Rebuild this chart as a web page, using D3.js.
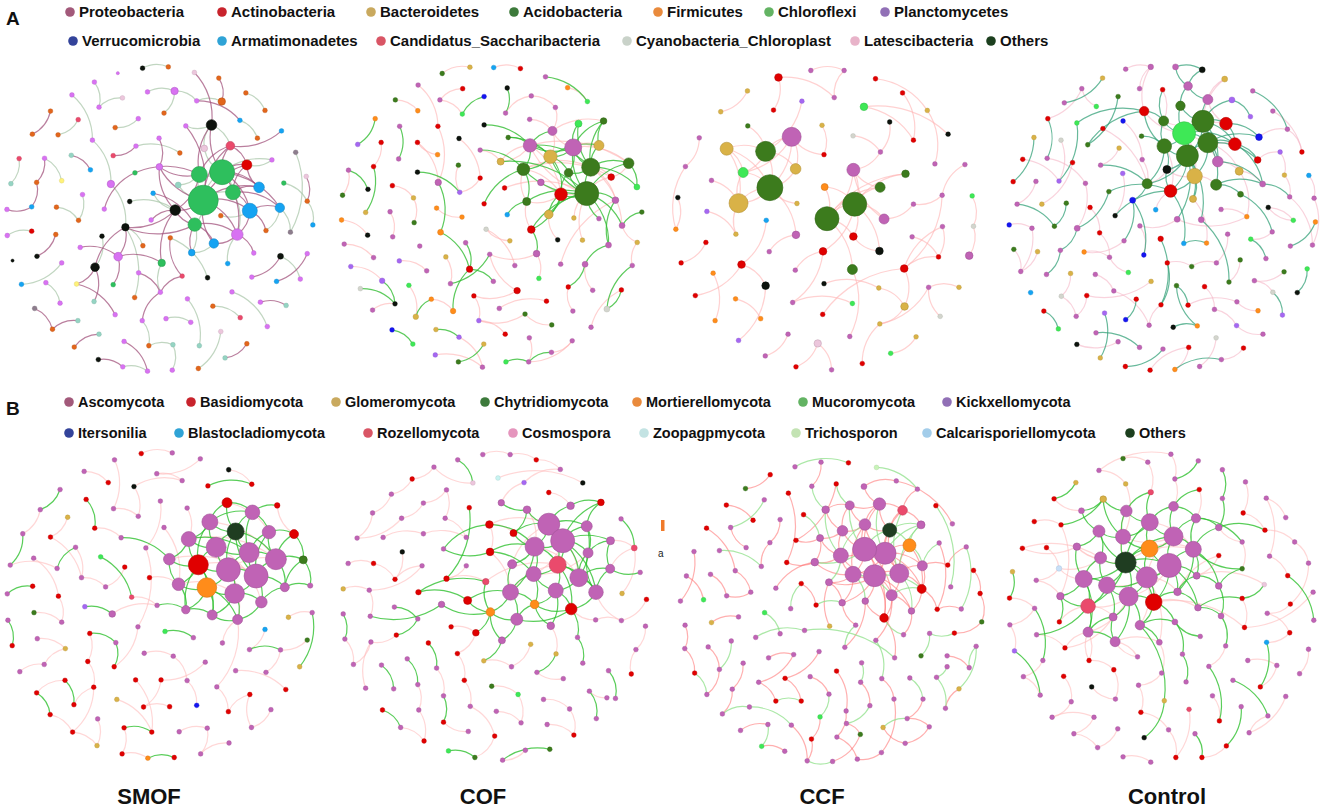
<!DOCTYPE html>
<html lang="en">
<head>
<meta charset="utf-8">
<title>Co-occurrence networks of bacteria and fungi</title>
<script src="https://cdn.jsdelivr.net/npm/d3@7"></script>
<style>
  html, body { margin: 0; padding: 0; background: #fff; }
  svg { display: block; }
  .leg { font-family: "Liberation Sans", Arial, sans-serif; font-weight: bold; fill: #111; }
</style>
</head>
<body>
<div id="chart"></div>
<script>
// legend categories
var bacteriaPhyla = ["Proteobacteria","Actinobacteria","Bacteroidetes","Acidobacteria","Firmicutes","Chloroflexi","Planctomycetes",
  "Verrucomicrobia","Armatimonadetes","Candidatus_Saccharibacteria","Cyanobacteria_Chloroplast","Latescibacteria","Others"];
var bacteriaColors = ["#a2597a","#c8232c","#c9a95e","#3d7a3b","#e98a3c","#63b363","#9170b6","#33439a","#2fa3d6","#d95565","#c9d2c9","#e8b3c9","#1c3f1e"];
var fungiPhyla = ["Ascomycota","Basidiomycota","Glomeromycota","Chytridiomycota","Mortierellomycota","Mucoromycota","Kickxellomycota",
  "Itersonilia","Blastocladiomycota","Rozellomycota","Cosmospora","Zoopagpmycota","Trichosporon","Calcarisporiellomycota","Others"];
var fungiColors = ["#a2597a","#c8232c","#c9a95e","#3d7a3b","#e98a3c","#63b363","#9170b6","#33439a","#2fa3d6","#d95565","#e595bd","#c3e3e3","#c3e3b3","#a3cdea","#1c3f1e"];
var treatments = ["SMOF","COF","CCF","Control"];

// node lists: [layout x, layout y, taxon code, weighted degree]
var smofBacNodes = [[61.6,44,"h",15],[67.3,35.5,"h",12.5],[60.4,36.2,"h",8],[70.6,41.6,"h",7.5],[59,51.4,"h",6.7],[75.7,47.2,"c",7.5],[78.5,40.1,"c",5.3],[84.8,46.3,"c",4.7],[71.9,54.4,"v",5.8],[64.8,57.1,"c",4.7],
[74.8,33.3,"r",5],[69.8,27.5,"s",4.3],[64.1,21.2,"k",5.3],[53.1,47,"k",5.3],[38,52.2,"k",3.7],[28.8,64.3,"k",4.3],[35.8,61.1,"v",4.3],[49,63,"h",3.7],[52.9,10.9,"v",3.7],[67.2,14.1,"e",3.7],
[33.6,39.1,"v",3.7],[48.3,33.9,"v",3.3],[85,61,"k",3],[58.1,59.9,"c",3.3],[61.9,28.3,"l",3.3],[54,39.4,"t",3],
[43.2,4,"k"],[51,3.6,"e"],[35.7,5.5,"v",1.6],[58.9,5.3,"l"],[28.6,8.2,"v"],[44.7,11.2,"v"],[21.8,12.1,"v"],[66.3,7,"e"],[74.5,11.5,"e"],[80.3,16.8,"e"],
[37.1,13,"l"],[30,15.8,"v"],[49.7,17.6,"e"],[59.6,13.9,"v"],[15.3,17,"e"],[9.8,24,"e"],[23.7,19.6,"s"],[17.6,24.2,"e"],[41.9,19.3,"v"],[34.9,22,"e"],
[56.3,21.5,"v"],[72.7,19.8,"c"],[85.3,23,"c"],[78,25.2,"e"],[28,25.8,"v"],[48.2,25.2,"v"],[34.3,30.5,"s"],[41.2,27.6,"v"],[54.5,29.7,"e"],[5.8,31.4,"s"],
[13.5,31.3,"v"],[21.6,30.4,"t"],[27.4,34.8,"c"],[3.3,39,"t"],[11.1,38.6,"e"],[18.7,38.1,"Y"],[40.9,35.7,"h"],[89.6,29.5,"x"],[82.4,31.8,"v"],[92.8,36.8,"l"],
[86,38.8,"h"],[93.1,44.3,"e"],[9.6,46,"c"],[2.1,46.8,"v"],[17.1,46.1,"e"],[25,42.3,"v"],[23.8,50.1,"e"],[31.6,46.7,"v"],[39.3,44.4,"k"],[46.4,41.9,"c"],
[45.8,50,"v"],[66.9,48.7,"e"],[51.6,55.4,"e"],[80.6,53.2,"e"],[88,53.7,"x"],[94.8,51.5,"c"],[2.2,54.7,"v"],[9.6,53.4,"r"],[16.9,54.4,"e"],[30.9,54.9,"k"],
[11.2,61,"k"],[3.8,62.3,"k",1.6],[24.3,58.3,"v"],[18.7,63,"v"],[43.3,57.8,"e"],[76.9,60,"v"],[69,63.2,"c"],[93.1,60.2,"v"],[6.5,69.5,"c"],[13.9,69,"v"],
[23.2,69.4,"Y"],[34.3,69.6,"h"],[42,66,"v"],[55.2,67,"s"],[62.9,67.5,"k"],[76.3,67.3,"v"],[83.8,68.6,"c"],[91,67.9,"v"],[18.2,75.2,"v"],[28.5,74.7,"t"],
[40.8,73.5,"e"],[48.6,71.9,"v"],[56.8,73.9,"v"],[70.3,71.8,"v"],[10.5,76.8,"x"],[23.6,80.5,"t"],[34.9,78.7,"v"],[43.1,80.5,"v"],[15.9,83.1,"e"],[50.3,79.9,"v"],
[57.8,81,"v"],[64.5,76.1,"e"],[72.8,79.6,"s"],[78.9,74.9,"v"],[86.7,75.9,"t"],[81,82.3,"v"],[30,84.6,"t"],[66.9,83.8,"l"],[22.5,88.5,"e"],[37.6,86.8,"v"],
[45.1,88.1,"e"],[52.4,87.8,"t"],[60.4,88.1,"t"],[74.8,87.5,"e"],[68.2,91.8,"t"],[29.8,92.3,"k"],[37.2,94.5,"v"],[44.7,95.8,"v"],[52.2,95.5,"v"],[60.1,95,"e"]];
// links: [source, target, sign] (1 = first colour, 0 = second colour)
var smofBacLinks = [[26,27,0],[29,12,1],[33,19,1],[34,35,0],[37,36,0],[30,37,0],[31,18,0],[18,38,0],[18,39,0],[39,47,1],[39,19,0],[40,41,1],[42,43,0],[32,50,0],[50,20,0],[44,45,0],[46,0,1],[47,49,0],[48,11,1],[51,21,1],
[53,52,1],[53,54,0],[57,58,1],[56,61,0],[56,60,1],[55,59,0],[60,68,1],[68,69,1],[63,80,0],[65,67,1],[67,81,0],[66,67,0],[64,10,0],[71,72,0],[70,72,0],[73,62,1],[62,2,1],[74,13,0],[75,4,1],[82,83,0],
[84,86,1],[88,16,1],[89,94,0],[95,104,0],[96,112,1],[15,14,1],[15,105,1],[15,96,1],[14,90,0],[14,106,0],[16,97,1],[16,17,1],[98,107,1],[107,99,1],[107,17,0],[17,13,1],[113,107,1],[113,126,0],[78,100,0],[99,78,1],
[23,4,1],[9,0,1],[92,8,0],[8,91,1],[5,77,0],[7,79,0],[7,80,0],[22,101,1],[22,103,0],[93,102,1],[110,114,1],[114,111,1],[108,128,0],[115,116,0],[117,118,0],[109,121,0],[119,120,1],[123,135,0],[129,130,1],[124,122,1],
[125,133,1],[126,127,0],[127,134,0],[131,132,1],[132,133,0],[85,15,0],[76,13,1],[20,14,0],
[0,1,0],[0,2,0],[0,3,0],[0,4,0],[0,5,1],[0,6,1],[0,8,1],[0,13,1],[0,25,0],[1,2,0],[1,3,0],[1,10,1],[1,11,1],[1,12,1],[1,24,0],[1,6,1],[1,5,1],[1,7,1],[2,21,1],[2,12,1],
[2,13,1],[3,5,1],[3,6,1],[3,7,1],[3,10,1],[4,13,1],[4,9,1],[4,23,0],[4,14,1],[4,8,1],[5,8,1],[5,7,1],[8,9,1],[13,14,1],[13,21,1],[13,75,0],[14,16,1],[12,11,0],[11,10,1],[24,12,0],
[1,64,0],[5,79,1],[9,23,0],[12,46,0],[2,25,0],[0,21,1],[1,8,1],[3,8,0],[0,10,1],[0,11,1],[2,11,1],[6,10,1]];

var cofBacNodes = [[77.8,42,"g",12],[79,34,"g",9],[73.7,28,"m",8.5],[60.6,27.4,"m",6.7],[66.8,30.8,"y",6.7],[58.6,34.6,"g",6.3],[70,42.2,"r",6.3],[81.5,27.4,"y",5],[90.5,32.8,"g",5.3],[67.4,23,"m",4.5],
[72.3,35.7,"g",4.3],[59.6,44.4,"g",4],[66.3,48.3,"y",4.3],[61,52.9,"r",3.8],[85.2,37,"r",3.3],[75.3,20.8,"G",3.5],[82.9,20,"g",3.3],[51.7,32.3,"y",3.5],[63.9,38.6,"m",3.3],[86.5,44,"m",3.3],
[62.6,60.2,"m",3.3],[93,40,"G",3],[88.5,51.7,"m",3],[84.4,57.6,"m",3],[42.3,64.9,"r",3.2],[56.7,71.4,"r",3.2],[33.5,53.7,"o",3],[32.8,38.6,"m",3.2],[83.9,77,"w",3],[77.3,63.4,"m",3],
[37.3,77.6,"o",2.8],[26,79.3,"y",2.8],[15.8,68.4,"p",2.8],
[34,5.6,"g"],[42.4,3.7,"y"],[49.6,3.8,"c"],[57.7,4.1,"r"],[65.3,6.6,"m"],[72,9.9,"o"],[78,14.1,"G"],[26.7,9.1,"m"],[40.2,10.2,"r"],[33.3,13.6,"m"],
[46.7,12.6,"b"],[40.1,17.9,"G"],[53.7,10,"k"],[53.2,17.6,"m"],[61,12.4,"m"],[68.3,15.9,"m"],[60.5,19.5,"m"],[19.8,13.6,"g"],[26.6,16.9,"o"],[13.7,19.3,"o"],
[8.4,27.1,"p"],[21.1,21.6,"m"],[20.8,31.5,"m"],[15.5,26.5,"r"],[32.7,21.6,"r"],[26.5,26.5,"r"],[39.1,25.3,"k"],[46.7,21.2,"k"],[54,25,"g"],[45.5,28.8,"m"],
[32.6,30.2,"o"],[38.9,33.4,"g"],[26.5,35.5,"k"],[13.2,33.8,"r"],[5.6,34.9,"m"],[3.8,42.5,"g"],[11.5,40.7,"k"],[18.9,39.6,"r"],[25.3,43.3,"y"],[45.5,37.3,"r"],
[52.9,40.3,"r"],[39.3,41.6,"p"],[46.7,45.1,"r"],[3.5,50,"o"],[10.8,47.7,"y"],[18.2,47.5,"m"],[25.5,50.8,"g"],[32.3,46.4,"o"],[40,49.1,"o"],[53.7,48.4,"c"],
[73.9,49.4,"y"],[47.3,52.8,"w"],[81.5,49.6,"m"],[94.5,47.6,"g"],[11.4,54.6,"k"],[19,55.1,"m"],[4.3,57.3,"m"],[27.2,57.9,"m"],[41.1,56.9,"m"],[54.5,56.3,"y"],
[69,56,"k"],[76.5,56.1,"y"],[93.1,56.8,"y"],[13.2,61.4,"m"],[35.1,61.2,"y"],[48.4,60.4,"m"],[21,62.4,"p"],[29.3,65.4,"m"],[56,63.8,"m"],[69.9,63.4,"m"],
[91.6,63.8,"m"],[6.3,64.1,"p"],[36.5,69.3,"m"],[49.5,68.6,"m"],[63.3,67.7,"G"],[72.2,70.3,"r"],[79.6,71.3,"m"],[88.3,71.2,"r"],[9.2,70.8,"w"],[23.9,69.8,"G"],
[19.7,75.4,"k"],[12.9,77.3,"m"],[30.7,74,"o"],[43.6,73,"r"],[51.3,76.8,"m"],[59.1,78.5,"g"],[65.6,74.6,"r"],[73.6,77.6,"m"],[45.1,80.5,"p"],[53.1,84.6,"r"],
[18.8,83.3,"b"],[25.1,87.6,"G"],[32.1,83.2,"y"],[39.1,85.5,"p"],[67.2,81.8,"g"],[79.1,82.5,"m"],[60.4,85.7,"m"],[46.6,87.6,"y"],[73.4,86.6,"m"],[31.9,90.9,"p"],
[38.9,93,"g"],[46.2,94.6,"m"],[53.3,93,"G"],[60.2,93,"m"],[67.1,90.1,"m"]];
var cofBacLinks = [[33,34,0],[35,36,0],[37,39,1],[38,39,0],[40,57,0],[42,41,0],[42,44,0],[44,43,1],[50,51,0],[52,53,1],[54,55,1],[56,66,0],[66,77,1],[67,69,1],[67,68,0],[58,27,0],[65,74,1],[27,26,1],[26,24,1],[24,106,1],
[70,71,0],[78,88,0],[76,87,0],[89,96,0],[104,32,0],[32,113,1],[111,113,1],[99,100,0],[112,31,0],[31,115,1],[115,30,0],[123,124,1],[125,126,1],[126,134,0],[132,134,0],[130,133,1],[121,122,0],[117,119,0],[118,121,0],[131,136,0],
[135,136,1],[136,137,1],[131,137,0],[128,110,0],[110,28,1],[28,103,1],[103,95,0],[29,108,1],[29,23,1],[23,19,1],[22,86,1],[20,98,0],[20,107,0],[98,105,1],[91,24,1],[84,101,0],[25,116,0],[25,98,0],[13,20,1],[13,11,0],
[13,0,1],[12,0,1],[12,6,1],[11,5,0],[11,0,1],[72,74,0],[74,64,0],[75,5,1],[82,11,1],[59,72,0],[60,3,1],[61,3,1],[61,4,1],[62,5,1],[62,17,0],[17,0,1],[17,3,0],[46,47,0],[47,48,0],[45,46,1],
[73,0,0],[83,0,0],[85,0,1],[94,0,0],[95,22,0],[102,19,0],[49,9,0],[48,9,0],[63,58,0],[57,27,0],[114,113,0],[93,12,0],[97,105,0],[109,29,0],[120,108,0],[127,118,0],[129,136,0],[81,80,0],[71,79,0],[92,84,0],
[116,121,0],[30,24,1],
[0,1,1],[0,2,1],[0,4,1],[0,5,1],[0,6,1],[0,8,1],[0,10,1],[0,14,0],[0,19,1],[0,22,1],[0,18,0],[1,2,1],[1,7,1],[1,8,1],[1,10,1],[1,14,0],[1,16,1],[1,15,1],[1,21,1],[2,3,1],
[2,4,1],[2,7,0],[2,9,0],[2,15,1],[3,4,1],[3,5,1],[3,9,1],[4,5,1],[4,6,1],[4,10,1],[5,6,0],[5,11,1],[6,10,1],[6,12,1],[7,16,1],[8,21,1],[8,14,0],[9,4,0],[3,17,0],[0,23,1],
[1,19,0],[1,22,0],[6,11,0],[6,13,1],[2,16,1],[2,8,0],[3,8,0],[5,14,0],[9,16,0],[0,3,0],[3,1,1],[5,1,0],[4,7,1],[2,10,1],[3,6,0]];

var ccfBacNodes = [[33.3,40.2,"g",13],[59,45.2,"g",12],[50.6,49.6,"g",12],[32,29.2,"g",10],[39.9,24.8,"m",9.5],[23.8,44.9,"y",9.5],[20.2,28.4,"y",6.5],[41.1,34.5,"y",5.3],[25.2,35.6,"G",5],[58.6,34.8,"m",6.5],
[66.7,40.1,"g",5],[67.9,49.7,"m",5],[66.5,59.4,"k",3.8],[58.3,65,"g",5],[74.4,36,"g",3.8],[35.9,6.8,"r",3.8],[41.2,54.5,"m",3.8],[58.6,55,"r",3.8],[49.4,59.5,"r",3.8],[24.7,63.5,"r",3.8],
[32,69.9,"k",3.8],[49.9,40,"o",3.5],[74,64.7,"r",3.8],[93.7,60.8,"m",3.8],[61.8,15.7,"G",3.8],[74.1,76.2,"y",3.8],[47.8,87.4,"l",3.7],
[45.7,4.7,"m"],[55.8,4.7,"m"],[65.3,7.2,"r"],[52.8,12.9,"m"],[26.5,10.9,"y"],[18.4,17.2,"y"],[34.4,16.7,"r"],[43,14,"p"],[73.5,11.5,"r"],[81,16.8,"y"],
[26.6,21.5,"g"],[49.1,21.3,"y"],[69.6,20.3,"k"],[87.3,24,"k"],[76.8,25.8,"r"],[58.5,24.5,"w"],[11.9,25.1,"m"],[7.7,33.8,"m"],[66.8,29.4,"m"],[49.7,30.2,"r"],
[83.3,33,"m"],[92.4,33.2,"m"],[15.6,38,"m"],[5.4,43.2,"k"],[41.5,45,"y"],[85.5,42.5,"m"],[76.8,45.2,"m"],[94.6,42.7,"G"],[14.2,47.4,"p"],[32.2,50.1,"c"],
[4.8,52.8,"o"],[23,54.3,"y"],[85.6,52,"m"],[95,51.9,"w"],[76.4,55.1,"m"],[13.9,56.8,"r"],[33.1,59.6,"m"],[84.4,61.2,"r"],[6.4,63,"r"],[16.1,66.1,"o"],
[41,65.2,"m"],[10.7,72.9,"r"],[49.7,69.3,"k"],[66.3,70.6,"y"],[22.9,73.9,"o"],[40.2,75,"m"],[58.3,75.3,"G"],[81.4,70.4,"m"],[90.6,70.4,"y"],[30.5,79.9,"o"],
[16.7,80.5,"o"],[49.3,78.6,"r"],[66.6,81.5,"y"],[84.9,79.2,"w"],[38.8,84.6,"m"],[57.5,85.3,"m"],[77.6,85.4,"y"],[23.8,86.5,"p"],[31.9,91.2,"m"],[41.2,94.5,"r"],
[52,95.4,"m"],[61.3,93.5,"r"],[69.9,90.4,"G"]];
var ccfBacLinks = [[27,28,0],[15,30,0],[15,33,0],[34,3,0],[31,32,0],[29,36,0],[35,41,0],[36,47,0],[24,41,0],[24,40,0],[39,45,0],[38,46,0],[42,45,0],[37,3,0],[43,44,0],[6,3,0],[6,0,0],[6,8,0],[6,5,0],[3,0,0],
[3,4,0],[3,7,0],[3,8,0],[4,0,0],[4,7,0],[5,0,0],[5,8,0],[8,0,0],[7,0,0],[0,16,0],[49,5,0],[50,57,0],[55,58,0],[58,5,0],[56,19,0],[19,20,0],[62,65,0],[66,77,0],[19,68,0],[71,76,0],
[20,84,0],[63,16,0],[72,73,0],[18,72,0],[69,70,0],[78,22,0],[81,85,0],[26,86,0],[26,87,0],[9,2,0],[9,1,0],[21,1,0],[21,2,0],[2,1,0],[1,10,0],[1,14,0],[2,14,0],[2,10,0],[1,11,0],[1,12,0],
[2,13,0],[1,17,0],[2,17,0],[1,18,0],[13,82,0],[22,64,0],[22,25,0],[22,59,0],[59,64,0],[52,53,0],[52,48,0],[52,22,0],[54,60,0],[60,23,0],[61,64,0],[74,75,0],[74,79,0],[25,79,0],[80,74,0],[83,89,0],
[88,79,0],[10,9,0],[0,5,0],[4,8,0],[30,28,0],[45,9,0],[46,4,0],[51,0,0],[67,18,0],[11,9,0],[53,11,0],[57,44,0],[70,25,0],[12,17,0]];

var ctrlBacNodes = [[57.3,23.7,"G",11.5],[63,20.1,"g",11],[58.3,30.5,"g",11],[64.5,26.6,"g",10],[51.3,27.6,"g",7.3],[60.5,36.7,"y",7.7],[70,20.8,"r",6.3],[72.7,27,"r",6.3],[53.2,41.2,"r",6.3],[67.5,32.3,"m",5.3],
[67,39.3,"g",5.5],[46.1,39,"g",5],[51.1,20,"g",5],[56.2,15.4,"g",4.7],[45.2,17,"r",4.7],[64.5,13.5,"m",5],[52.1,34.7,"k",4],[58.5,9.4,"m",4.3],[74,35.2,"y",4],[60,43.6,"y",3.5],
[79.6,31.8,"r",3.3],[80,24.9,"b",3.3],[81.1,39.1,"m",3],[71.8,13.6,"p",3],[74.4,42.2,"g",3],[69.6,7.3,"y",3],[54.7,3.6,"m",3],[62.8,4.5,"k",3],[47.2,3.6,"m",2.8],[62.5,49.9,"m",3],
[55.2,49.8,"m",3],[24.9,52.5,"m",3],[41.7,44,"b",3],[50.2,55.7,"r",2.8],
[39.6,4.3,"m"],[32.6,7,"y"],[26.3,10.2,"m"],[21,14.5,"m"],[43.8,10.2,"m"],[50.8,10.5,"r"],[37.3,12.6,"g"],[78.1,10.9,"m"],[30.7,15.6,"G"],[84.2,17,"m"],
[16,19.3,"r"],[24.8,20.6,"G"],[32.7,22.3,"r"],[38.8,20,"b"],[77.4,18.7,"p"],[11.8,25,"y"],[20,25.8,"w"],[28.1,27.2,"g"],[37.6,28.2,"y"],[44.4,24.6,"g"],
[88.6,22.5,"m"],[8.4,31.6,"r"],[15.8,31.3,"m"],[23.5,32.6,"r"],[32,33.4,"m"],[44.6,31.7,"m"],[86.4,29.4,"p"],[93,29.4,"r"],[5.5,38.4,"r"],[12.4,38.3,"m"],
[19.4,38.2,"p"],[27.4,38.9,"m"],[38.7,35.9,"p"],[87.7,36.4,"y"],[95.1,36.5,"c"],[6.7,45.2,"m"],[14.2,45.2,"y"],[21.6,44.9,"g"],[34.5,41.4,"g"],[89.3,43,"m"],
[96.7,43.4,"m"],[28.8,46.2,"r"],[36.4,48.7,"k"],[48.7,46.9,"c"],[68.5,46.8,"m"],[82.8,46.2,"k"],[4.3,51.5,"b"],[11.2,52.5,"m"],[18,51.9,"g"],[43.9,51.8,"m"],
[76.3,49,"o"],[90.4,50.1,"G"],[97.1,50.6,"o"],[31.7,53.9,"r"],[39.1,56.3,"m"],[57.2,57.1,"c"],[64.1,57,"o"],[70.5,54.3,"m"],[77.5,55.8,"G"],[84,53.6,"m"],
[5.7,58.9,"g"],[12.9,59.6,"y"],[19.8,59.2,"m"],[27,59.7,"o"],[34.7,61.3,"m"],[45.1,60.6,"b"],[52.2,63,"r"],[59.6,64.1,"g"],[67.1,63,"m"],[74.3,62.1,"g"],
[82.1,61.7,"m"],[89.5,57.9,"m"],[96.2,57.6,"m"],[7.8,65.6,"m"],[15.6,66.5,"m"],[22.9,66.2,"y"],[30.4,66.5,"m"],[40.4,65.9,"G"],[47.3,68.6,"y"],[55,69.9,"g"],
[63.5,70.2,"r"],[70.9,68.8,"g"],[78.6,68.4,"m"],[87.6,65.7,"g"],[94.6,64.8,"G"],[10.8,72,"c"],[20.1,73.1,"w"],[27.8,72.9,"r"],[36,71.5,"m"],[42.8,74,"r"],
[50.3,75.7,"r"],[58.5,75.8,"r"],[66.5,77.1,"m"],[73.3,74.8,"m"],[84.2,71.9,"w"],[91.6,72,"k"],[14.8,77.6,"r"],[24.6,79.2,"m"],[33.2,78.2,"p"],[39.6,80.2,"b"],
[46.7,81.9,"m"],[54,82.5,"k"],[61.3,82.1,"o"],[73.2,82,"p"],[79.7,77.5,"o"],[87.1,78.8,"p"],[19.2,83,"G"],[30.6,84.2,"m"],[37.3,86.9,"m"],[43.8,88.6,"m"],
[50.9,89.1,"m"],[58.7,88.6,"r"],[67,85.7,"w"],[75.3,88.8,"r"],[81.2,84.6,"m"],[24.8,87.7,"k"],[31.9,91.8,"y"],[39.5,94.4,"r"],[47,95.5,"r"],[54.5,95.3,"o"],
[62,94.4,"m"],[68.6,92.3,"m"]];
var ctrlBacLinks = [[0,1,1],[0,2,1],[0,3,1],[0,4,1],[0,12,1],[0,13,1],[1,3,1],[1,2,1],[1,6,1],[1,15,1],[1,13,1],[2,3,1],[2,4,1],[2,5,1],[2,8,1],[2,16,1],[2,11,1],[3,7,1],[3,9,1],[3,10,1],
[3,5,1],[3,18,0],[4,14,1],[4,11,1],[4,12,1],[5,19,1],[5,8,1],[5,10,0],[6,7,1],[6,21,1],[7,20,1],[9,22,1],[10,24,1],[11,32,1],[13,17,1],[15,17,1],[15,25,0],[17,27,1],[17,26,1],[26,27,1],
[14,28,0],[1,23,1],[23,48,1],[1,25,0],[7,22,1],[9,18,0],[2,19,1],[2,29,1],[2,30,1],[0,14,0],[3,20,1],[12,39,1],[16,11,0],[4,16,1],[8,16,1],[0,7,1],[1,7,1],[3,21,1],[1,9,1],[10,22,1],
[18,22,0],[5,16,0],[0,6,0],[0,9,0],[2,7,0],[4,8,0],[1,12,0],[6,15,0],[14,12,1],[0,5,0],
[34,28,0],[35,37,1],[36,44,0],[40,51,1],[41,54,1],[43,61,0],[45,64,1],[49,62,1],[50,64,0],[56,65,0],[57,70,0],[63,69,0],[69,82,1],[51,14,1],[58,11,1],[59,11,0],[66,76,0],[72,31,1],[72,8,1],[75,87,0],
[31,96,1],[76,8,1],[32,99,1],[77,8,0],[8,89,1],[33,124,1],[87,98,0],[88,97,0],[89,90,1],[78,84,0],[29,115,1],[84,30,0],[92,104,1],[93,92,0],[73,106,0],[74,106,0],[86,105,1],[60,67,0],[54,61,0],[67,73,0],
[95,107,0],[96,108,1],[94,107,0],[80,81,0],[81,107,0],[55,64,0],[97,98,0],[100,101,0],[100,124,1],[101,102,0],[112,121,0],[113,125,1],[114,126,0],[117,116,0],[118,129,1],[120,131,0],[121,131,0],[123,133,1],[125,127,0],[128,139,1],
[130,140,1],[132,150,1],[141,143,1],[144,151,1],[145,153,0],[153,155,1],[146,154,0],[147,155,0],[148,137,0],[135,136,1],[136,113,1],[138,127,0],[47,59,0],[53,4,1],[68,74,0],[79,85,0],[46,11,0],[52,58,0],[109,120,0],[110,122,0],
[111,98,0],[142,149,0],[152,145,0],[38,28,0],[42,36,0],[39,12,0],[65,31,0],[83,99,0],[91,102,0],[103,115,0],[134,124,0],[122,134,0],[116,128,0],[126,137,0],[45,14,1],[20,60,0],[21,54,0],[22,73,1],[24,93,1],[18,84,0],
[19,90,0],[30,83,0],[32,88,1],[44,56,1],[71,82,1],[85,79,0]];

var smofFunNodes = [[69.2,37.8,"m",12],[77.6,39.7,"m",12],[60.1,36.3,"r",10],[75.5,32.6,"m",10],[65.5,31,"m",10],[83.6,34.6,"m",10.5],[71.1,45,"m",9.8],[62.7,43.2,"o",9.8],[71.4,26.2,"d",8.5],[63.6,23.3,"m",8],
[57.2,28.5,"m",7.5],[76.5,20.4,"m",7.3],[81.5,26.4,"m",6.7],[54.1,42.2,"m",6.3],[79.2,47.6,"m",5.8],[51.3,34.6,"m",5.8],[86.3,43.1,"m",4.5],[72,52.9,"m",5],[64.3,51.5,"m",5],[56.3,49.9,"m",4.2],
[68.8,17.5,"r",5],[89.1,27,"r",4.5],[91.9,34.8,"g",4],[34,51.2,"m",3.3],[84,18.3,"r",2.8],[94,42.6,"m",2.7],
[42.8,2.6,"r"],[52.2,2.4,"m"],[60.7,4.2,"m"],[34.7,4.5,"m"],[25.5,8,"m"],[32.8,11.4,"r"],[47.5,8.7,"m"],[55.2,10.8,"m"],[69.3,7.5,"k"],[76.3,11.9,"r"],
[40.6,12.6,"k"],[63,12.4,"r"],[18.2,13.5,"m"],[12.2,19.6,"m"],[34.4,19.3,"m"],[26.1,16.5,"r"],[48.6,17,"m"],[41.9,21.6,"m"],[28.7,25.2,"r"],[20.5,21.9,"y"],
[56.7,19.1,"m"],[6.9,26.9,"m"],[15.3,27.9,"r"],[36.7,28.1,"m"],[49.7,25,"m"],[22.9,31,"m"],[44.2,31.2,"m"],[3.1,36.4,"m"],[10.2,34.3,"m"],[17.3,37.4,"m"],
[30.5,33.9,"G"],[37.8,37,"r"],[24.7,40.2,"m"],[45.3,40.2,"r"],[2.2,45.1,"m"],[9.9,42.8,"r"],[17.7,45.8,"r"],[32,43,"m"],[39.9,46.1,"s"],[10.3,50.8,"g"],
[18.7,53.7,"m"],[25.7,49,"p"],[47.6,48.6,"m"],[2.4,53.1,"m"],[3.7,60.8,"r"],[11.3,58.7,"m"],[19.8,61.7,"y"],[27.2,57.1,"r"],[35.1,59.9,"m"],[41.8,55.1,"m"],
[50,56.5,"G"],[58.6,58.4,"m"],[67.4,60,"m"],[80.3,55.9,"c"],[87.4,52.2,"y"],[94.6,50.8,"m"],[75.6,62,"m"],[85,62.1,"m"],[93.1,59.1,"g"],[6,68.7,"m"],
[13.4,66.5,"m"],[26.6,65.6,"r"],[34.6,67.2,"r"],[43.7,63.1,"m"],[52.5,64,"m"],[62.2,65.8,"m"],[80.6,68.9,"m"],[90.8,67.2,"y"],[11.1,75.1,"r"],[19.7,71.3,"r"],
[28.4,73.4,"r"],[41.1,71.2,"r"],[48.8,71.2,"r"],[56.7,71.4,"m"],[65.7,73.3,"m"],[71.4,68.4,"m"],[86.6,74.1,"r"],[15.2,81.7,"r"],[22.4,78.7,"r"],[35.4,77.1,"y"],
[43.5,79.4,"r"],[51.4,79.3,"r"],[59.6,78.9,"b"],[69.2,80.8,"r"],[75.7,75.6,"r"],[82.1,80.2,"m"],[22,87,"r"],[29.6,83,"m"],[37.6,85.7,"r"],[46,87,"r"],
[54.3,86.9,"m"],[62.8,85.8,"m"],[76.2,85.6,"m"],[29.4,91.1,"y"],[37,93.6,"r"],[44.8,94.9,"o"],[52.8,94.7,"r"],[60.8,93.6,"m"],[69.4,90.3,"m"]];
var smofFunLinks = [[0,1,1],[0,2,1],[0,3,1],[0,4,1],[0,6,1],[0,7,1],[0,8,1],[0,5,0],[1,3,1],[1,5,1],[1,6,1],[1,14,1],[1,16,1],[1,8,1],[1,12,1],[2,4,1],[2,7,1],[2,10,1],[2,13,1],[2,15,1],
[2,9,1],[3,4,1],[3,5,1],[3,8,1],[3,11,1],[3,12,1],[4,8,1],[4,9,1],[4,10,1],[5,12,1],[5,16,1],[5,21,1],[5,22,1],[6,7,1],[6,14,1],[6,17,1],[6,18,1],[7,13,1],[7,18,1],[7,19,1],
[8,9,1],[8,11,1],[8,20,1],[9,10,1],[9,20,1],[10,15,1],[11,12,1],[11,24,1],[12,21,1],[13,15,1],[13,19,1],[14,16,1],[14,17,1],[16,25,1],[17,18,1],[19,18,1],[20,11,1],[21,22,1],[22,25,1],[15,1,0],
[10,5,0],[9,5,0],[13,6,0],[2,1,0],[4,14,0],[20,12,0],[0,17,0],[2,18,1],[10,3,1],[8,5,1],[16,22,1],[9,11,1],[19,2,1],[7,17,1],[21,24,0],
[56,64,1],[57,63,0],[49,15,1],[42,52,0],[26,27,0],[29,40,0],[30,31,0],[32,33,0],[36,33,0],[36,43,0],[34,35,0],[37,35,1],[38,39,1],[41,44,1],[45,48,0],[47,53,1],[53,55,0],[48,58,0],[54,62,0],[55,51,1],
[51,58,0],[60,61,1],[65,66,0],[67,23,1],[23,68,0],[68,19,1],[69,70,1],[71,72,0],[73,74,1],[74,88,1],[73,87,0],[75,88,0],[76,77,1],[89,90,0],[91,98,0],[17,100,0],[79,82,0],[82,83,1],[80,81,0],[81,93,1],
[84,83,0],[83,92,0],[101,102,0],[85,86,0],[94,95,0],[95,104,1],[94,103,1],[96,112,0],[97,115,0],[105,115,0],[106,107,0],[113,119,0],[114,115,1],[114,120,0],[116,117,0],[109,110,0],[111,118,0],[121,122,1],[123,124,0],[28,32,0],
[46,10,0],[50,13,0],[78,17,0],[59,13,0],[52,75,0],[62,66,0],[86,72,0],[87,96,0],[90,99,0],[98,106,0],[99,108,0],[100,109,0],[117,123,0],[118,110,0],[112,119,0],[120,121,0],[103,112,0],[104,96,0],[58,63,0],[39,47,0],
[40,43,0],[44,49,0],[64,68,0]];

var cofFunNodes = [[70.5,29,"m",12],[66.3,24,"m",11],[62,30.8,"m",9.5],[69,36.3,"s",8.5],[75.4,40.2,"m",9],[54.7,44.6,"m",8],[68.4,44.1,"m",7.5],[61.7,39.1,"m",7.5],[80.6,44.6,"m",7.3],[73.1,49.7,"r",5.8],
[56.6,52.8,"m",6],[77.8,24.6,"m",5.5],[78.2,32.7,"m",5],[55.2,36.1,"m",4.5],[84.9,37.5,"m",4.5],[85,29,"m",4],[62,48.3,"o",4.3],[48.6,50.6,"o",4.3],[59.7,19.6,"m",3.8],[72.9,18.4,"m",3.8],
[48.3,24.1,"r",3.8],[48.5,32.4,"r",3.8],[55.6,26.7,"r",3.5],[41.7,47.1,"r",4],[47.2,41.4,"s",3.2],[66.9,54.8,"m",3.8],[52.1,59.2,"m",3.5],[44.2,56.9,"r",3.3],[33.8,48.3,"m",3.2],[82.1,17.4,"r",3.3],
[51.9,17.5,"m",3.2],[92.2,31.2,"s",3],[35.3,40.5,"r",2.8],[26.8,44.6,"r",2.8],
[46.3,2.9,"m"],[54.6,2.9,"m"],[62.5,4.5,"r"],[38.7,4.5,"m"],[43.3,11.5,"l"],[50.9,10,"q"],[58.8,11.4,"p"],[69.8,7.4,"m"],[76.6,11.5,"k"],[66.3,14.4,"r"],
[31.5,6.7,"m"],[24.9,10.3,"r"],[18.6,14.9,"m"],[12.9,20.6,"m"],[35.3,13.6,"m"],[28.3,17.6,"m"],[34.9,22.2,"m"],[42.2,19,"r"],[21.7,22.2,"m"],[8.2,28.2,"m"],
[16.1,28,"m"],[21.9,32.4,"k"],[28.3,26.9,"m"],[34.4,31.5,"m"],[41.3,28,"m"],[88.2,22.4,"m"],[5.5,35.9,"m"],[13.2,35.9,"r"],[19.7,40.7,"r"],[27.9,36.6,"m"],
[41.3,36.6,"m"],[94,38.6,"m"],[4,43.6,"y"],[11.9,44,"m"],[88.5,45,"y"],[95.9,46.8,"r"],[4,51.2,"m"],[12.2,51.9,"m"],[19.5,49.1,"m"],[26.6,52.7,"m"],
[36.7,55.1,"r"],[80.5,53,"m"],[88.3,53.2,"m"],[4.5,58.8,"m"],[12.4,59.7,"m"],[20.1,57.6,"r"],[29.8,60,"r"],[60.8,60.4,"y"],[68.5,63.3,"y"],[75,58.3,"m"],
[95.6,54.9,"m"],[92.7,62,"m"],[38.6,63.2,"r"],[46.6,65.4,"y"],[55,67.2,"m"],[62.7,68.9,"m"],[7.1,66.5,"m"],[15.6,66.7,"m"],[23.4,64.8,"m"],[32.3,67.6,"m"],
[76.6,66.1,"m"],[84.4,68.4,"m"],[91.3,69.4,"r"],[40.7,71.3,"r"],[10.8,73.7,"m"],[19.3,73.9,"m"],[26.6,72.6,"m"],[70.7,70.8,"m"],[83.9,76.6,"m"],[49,73.1,"g"],
[57,75.6,"G"],[64.7,77.1,"m"],[72.6,80,"m"],[78.6,74.6,"m"],[86.5,76.8,"m"],[34.4,76,"m"],[15.9,80.3,"r"],[26.9,80.3,"m"],[42.5,79.2,"m"],[50.4,80.7,"m"],
[21.4,85.6,"m"],[34.4,84,"r"],[41.9,86.8,"m"],[49.9,88.2,"r"],[57.9,84.2,"m"],[65.8,84.7,"m"],[73.9,87.9,"r"],[80.7,82.9,"m"],[28.5,89.7,"r"],[35.9,92.7,"G"],
[43.9,94.7,"g"],[52.3,95.5,"m"],[59.2,92.5,"m"],[66.6,92.2,"g"]];
var cofFunLinks = [[0,1,1],[0,2,1],[0,3,1],[0,11,1],[0,12,1],[0,4,1],[1,2,1],[1,18,1],[1,19,1],[1,11,1],[2,3,1],[2,7,1],[2,13,1],[2,22,1],[2,5,1],[3,4,1],[3,6,1],[3,7,1],[3,9,1],[4,8,1],
[4,6,1],[4,12,1],[4,14,1],[5,7,1],[5,10,1],[5,17,1],[5,13,1],[5,16,1],[6,7,1],[6,9,1],[6,16,1],[6,25,1],[7,16,1],[8,14,1],[8,9,1],[8,12,1],[10,16,1],[10,17,1],[10,26,1],[11,29,1],
[11,12,1],[12,15,1],[14,15,1],[14,31,0],[15,31,0],[17,23,1],[17,27,1],[17,28,1],[17,24,1],[18,30,1],[19,29,1],[20,22,0],[20,2,1],[21,2,1],[21,7,1],[22,1,1],[24,3,0],[23,5,1],[13,1,0],[0,8,1],
[1,3,1],[0,15,1],[3,8,1],[9,10,1],[9,16,1],[25,16,1],[26,17,1],[0,29,1],[1,4,0],[2,4,0],[0,7,0],[5,3,0],[12,7,0],[18,22,1],[11,4,1],[20,1,0],[21,5,0],[18,2,0],
[32,24,0],[33,24,1],[28,71,1],[20,21,0],[21,57,1],[37,38,1],[34,35,0],[35,36,0],[39,42,0],[40,41,0],[43,19,0],[44,45,0],[46,47,0],[48,49,0],[48,50,0],[51,32,1],[52,53,0],[54,56,0],[56,58,0],[57,20,1],
[59,31,1],[31,68,0],[60,61,0],[61,62,0],[62,63,0],[63,67,0],[64,32,0],[65,14,1],[66,67,0],[69,76,0],[70,77,1],[72,73,1],[73,79,1],[74,27,0],[75,76,0],[78,90,0],[80,93,1],[81,88,0],[82,89,1],[83,94,1],
[84,85,0],[86,97,0],[87,88,0],[91,99,1],[92,100,1],[95,108,1],[96,85,0],[103,104,0],[104,118,0],[105,106,0],[107,121,1],[109,115,1],[110,114,1],[111,122,0],[112,117,0],[119,120,0],[123,124,1],[125,127,1],[33,23,1],[75,9,0],
[76,8,0],[101,89,0],[102,107,0],[113,118,0],[116,115,0],[126,125,0],[98,78,0],[47,53,0],[45,46,0],[49,52,0],[50,58,0],[55,62,0],[36,41,0],[30,40,0],[38,44,0],[67,71,0],[77,90,0],[79,78,0],[93,109,0],[97,112,0],
[100,111,0],[114,122,0],[117,124,0],[106,120,0],[26,87,1],[27,86,0],[25,82,0],[9,83,1]];

var ccfFunNodes = [[62,31.6,"m",12],[68.2,32.8,"m",11],[65,39.6,"m",11],[72.5,38.9,"m",9.5],[58.5,39.2,"m",8],[54.8,33.5,"m",7.5],[69.6,25.8,"d",7],[75.6,30.4,"o",6.5],[66.5,17.9,"m",6.2],[62.1,24.1,"m",5.8],
[55.3,26,"m",5.3],[57.5,18.3,"m",4.5],[73.5,19.8,"s",4.8],[70.2,45.5,"m",5.5],[79.5,36.6,"m",5],[79.1,24.2,"m",4],[79.3,43.6,"r",4.5],[67.9,52.4,"r",4.3],[50.2,19.6,"m",3.8],[48.5,28.2,"m",3.5],
[46.9,35.5,"m",3.8],[51.2,41.6,"m",3.5],[55.2,47.8,"m",3.3],[62.2,47.3,"m",3.3],[76.2,50.3,"m",3.3],[61.8,12.6,"m",3],
[40.9,6.6,"m"],[48.8,5.2,"m"],[57.1,5.4,"r"],[65.6,6.8,"n"],[71.6,10.9,"m"],[78,13.4,"m"],[33.4,9,"r"],[25.9,13.2,"g"],[46,12.5,"m"],[53.4,11.8,"r"],
[38.9,14.6,"r"],[20.1,18.2,"r"],[28.2,22.8,"r"],[21.4,25,"m"],[31.6,16.6,"m"],[43.5,21.1,"r"],[36.4,22.6,"m"],[41.2,28.9,"r"],[14.1,25.2,"r"],[83.6,18.4,"r"],
[88.6,23.9,"m"],[84.6,29.7,"m"],[33.3,29.6,"m"],[18,32,"m"],[26.1,31.1,"m"],[10.3,32.3,"m"],[38.4,35.6,"r"],[87.2,36.4,"r"],[92.8,30.9,"m"],[95,38,"r"],
[30.7,36.8,"m"],[22.8,38.1,"m"],[8,39.7,"m"],[15.3,39.2,"m"],[42.8,42,"r"],[88.1,43,"m"],[97,45,"r"],[6.2,47.3,"m"],[13.2,46.9,"G"],[20.2,45.7,"m"],
[27.5,44.6,"m"],[35.1,43.4,"m"],[39.6,49.6,"m"],[47.3,48.5,"r"],[84,49.8,"r"],[91.3,49.7,"m"],[97.5,53.6,"g"],[15.6,53.8,"y"],[23.8,52.1,"m"],[31.7,50.8,"G"],
[51.4,54.9,"y"],[59.3,54.6,"m"],[73.8,57.5,"m"],[81.7,57.1,"m"],[89.2,57,"r"],[7.6,54.6,"m"],[7.5,61.7,"m"],[14.6,61.2,"m"],[21.6,59.4,"m"],[29,58.3,"m"],
[36.4,57.2,"m"],[43.8,56.2,"m"],[56,61.3,"m"],[65.4,59.2,"m"],[79.1,63.9,"g"],[87,63.9,"m"],[95.8,61,"m"],[18,68,"m"],[25.2,66.1,"m"],[32.9,64.5,"m"],
[40.5,63.5,"m"],[48.2,62.6,"m"],[61.1,66,"m"],[71.1,64.5,"m"],[87,67.2,"m"],[93.7,67.5,"m"],[10.5,69.1,"r"],[29.9,71.9,"m"],[37.9,70.7,"r"],[45.5,70.2,"m"],
[53.5,68.5,"r"],[60.8,71.9,"m"],[67.2,70.8,"m"],[75.7,70.6,"m"],[83.8,70.4,"m"],[90.6,73.9,"y"],[14.2,75.6,"m"],[21.9,74,"m"],[35.1,77.6,"r"],[42.8,77.6,"r"],
[51.2,75.5,"m"],[56.4,80.6,"m"],[63.6,79,"m"],[70.9,77,"m"],[79.7,77,"m"],[86.5,79.8,"m"],[18.9,81.5,"m"],[27.1,79.4,"m"],[39.8,84.9,"m"],[48.5,82.4,"G"],
[56.5,84.4,"m"],[67.6,85.6,"y"],[74.9,82.9,"m"],[81.6,85.4,"m"],[24.4,86.5,"m"],[32.7,84.7,"m"],[45.9,89.1,"r"],[53.6,88.5,"m"],[60.7,87.7,"g"],[67.1,93.2,"m"],
[74.3,90.4,"m"],[30.8,91.3,"G"],[37.8,92.8,"m"],[44.6,95.7,"m"],[52.3,95.9,"m"],[59.8,95.2,"m"]];
var ccfFunLinks = [[0,1,0],[0,2,0],[0,4,0],[0,5,0],[0,9,0],[0,8,0],[0,10,0],[0,3,0],[1,2,0],[1,3,0],[1,6,0],[1,7,0],[1,9,0],[1,14,0],[2,3,0],[2,4,0],[2,13,0],[2,17,0],[2,23,0],[3,7,0],
[3,13,0],[3,14,0],[3,16,0],[4,5,0],[4,21,0],[4,22,0],[4,20,0],[5,10,0],[5,19,0],[5,20,0],[6,8,0],[6,9,0],[6,12,0],[6,7,1],[6,15,1],[7,14,1],[7,15,1],[8,11,0],[8,25,0],[8,12,0],
[9,10,0],[9,11,0],[10,18,0],[10,11,0],[13,17,0],[13,24,0],[14,16,0],[16,24,0],[18,11,0],[19,20,0],[21,22,0],[12,15,0],[0,6,1],[1,8,1],[2,16,1],[3,24,1],[4,23,1],[5,18,1],[0,11,1],[2,22,0],
[0,20,1],[1,12,0],[13,16,1],[17,23,0],[14,53,0],[3,15,1],[9,8,0],[2,21,0],[5,21,1],[1,4,0],[0,13,0],[1,16,0],[2,5,0],[4,9,0],[3,6,0],[10,19,0],[1,15,1],[2,24,0],[4,13,1],[0,17,0],
[7,16,0],[5,9,1],[3,12,1],
[26,28,1],[27,34,0],[29,31,1],[30,46,0],[32,33,0],[35,43,0],[36,52,0],[37,38,0],[40,39,1],[41,19,1],[44,57,0],[49,56,1],[51,63,0],[58,64,0],[53,54,0],[45,61,1],[47,70,0],[55,62,0],[54,71,1],[60,69,0],
[69,22,1],[73,74,0],[75,86,1],[70,71,0],[72,80,0],[80,79,1],[79,90,1],[81,82,0],[83,93,0],[84,93,1],[85,87,1],[87,99,1],[89,108,1],[91,101,0],[92,111,1],[94,113,0],[95,96,0],[96,103,0],[97,104,0],[98,107,1],
[102,112,1],[100,110,1],[105,116,0],[106,117,0],[109,120,1],[110,121,1],[114,115,1],[118,126,1],[119,135,0],[122,123,1],[123,124,1],[124,139,0],[125,132,0],[127,128,1],[129,136,0],[130,131,0],[133,141,0],[134,140,0],[137,138,0],[50,39,0],
[59,65,0],[66,65,0],[68,60,1],[77,22,0],[78,17,1],[42,48,0],[67,20,0],[76,21,0],[88,77,1],[12,31,0],[25,30,0],[18,34,1],[19,43,0],[20,52,0],[23,88,0],[24,78,0],[16,70,0],[14,47,1],[13,89,0],[17,99,0],
[11,35,1],[62,72,0],[82,102,0],[93,112,0],[103,114,0],[113,122,0],[116,125,1],[117,133,0],[126,134,0],[128,129,0],[131,137,1],[132,139,0],[135,141,0],[136,127,0],[140,139,1],[121,111,0],[101,92,1],[104,115,0],[107,118,0],[108,119,0],
[120,128,0],[57,66,0],[56,48,0]];

var ctrlFunNodes = [[39.6,35.6,"d",10.5],[52.8,36.5,"m",12],[46,40.1,"m",10.5],[54.1,27.7,"m",9.5],[46.8,31.4,"o",8.5],[46.9,23.4,"m",8.5],[60.1,31.6,"m",8],[40.5,45.9,"m",9.5],[26.9,40.6,"m",8.5],[33.9,42.5,"m",8.3],
[48.1,47.6,"r",8.3],[28.2,48.8,"s",7.3],[38.8,27.8,"m",7.5],[31.5,26.1,"m",6],[32,34.2,"m",6],[39.8,20,"m",5.8],[54.1,18.6,"m",4.8],[60.9,22.2,"m",4.6],[28.2,56.7,"m",5],[36.4,59.6,"m",5],
[43.9,54.6,"m",4.7],[35.8,52.1,"m",4],[55.3,44.5,"m",3.8],[24.8,30.8,"m",3.7],[19.8,45.8,"m",3.7],[61.1,39.6,"m",3.5],[61.5,49.3,"m",3.3],[67.8,25,"m",3.3],[67.8,42.7,"m",3.3],[32.8,16.4,"y",3.3],
[26.2,19.9,"m",3],[54.5,53.6,"m",3],[49.8,59.8,"m",3],[68.5,51.8,"m",3],[47.2,14.3,"s",2.8],[19.4,37.4,"u",2.8],
[38.8,4.1,"g"],[46.3,5.2,"m"],[53.3,2.8,"m"],[31.5,7.7,"m"],[61.6,4.8,"m"],[54.5,10.3,"m"],[24.5,11.4,"y"],[17.9,16.3,"r"],[39.6,11.8,"y"],[68.9,7.5,"m"],
[68.9,16.2,"m"],[61.9,13.5,"r"],[75.9,11.2,"m"],[75.2,20.6,"r"],[82.2,16.1,"m"],[88.1,22,"m"],[11.9,23.2,"r"],[20,24.2,"r"],[81.8,25.8,"r"],[90.8,29.4,"m"],
[8.3,31.3,"r"],[15.6,31.1,"r"],[74.9,29.4,"m"],[83.2,33.7,"m"],[67.8,33.5,"r"],[95,35.8,"m"],[74.9,37.5,"g"],[88.7,39.6,"r"],[5.3,38.4,"y"],[12.5,41,"m"],
[81.6,42.3,"l"],[96.4,44.6,"m"],[4.4,46.4,"r"],[74.9,46.5,"r"],[89.5,48.2,"r"],[12,49.5,"m"],[19.5,53.6,"r"],[62.2,58,"m"],[82.5,51,"m"],[96.6,53.1,"m"],
[4.5,54.5,"m"],[12.6,57.5,"m"],[21.2,61.5,"r"],[43.2,64.2,"m"],[56.8,63.4,"m"],[75.6,55.3,"r"],[89.3,56.9,"r"],[82.3,59.8,"c"],[5.9,62.4,"p"],[14.5,65.3,"m"],
[28.5,65.3,"r"],[36,68.1,"r"],[50.5,69.1,"m"],[57.9,71.8,"m"],[69.9,60.9,"m"],[76.6,65.3,"m"],[85.4,66.8,"m"],[95,61.9,"m"],[8.6,70.2,"m"],[20.8,70.1,"r"],
[29.3,73.3,"k"],[43.5,72.8,"m"],[64.8,67.1,"m"],[72.1,71.3,"m"],[80.4,73.3,"r"],[92.3,69.3,"m"],[13.7,75.8,"m"],[23.1,77.8,"m"],[36.5,77,"m"],[51.3,77.5,"y"],
[65.9,76,"m"],[74.6,79.3,"m"],[88.1,76.2,"m"],[17.3,82.5,"m"],[30,82.5,"m"],[44.2,81,"r"],[52.6,86.3,"m"],[58.8,80.1,"s"],[68,83.6,"r"],[82.7,82.1,"m"],
[23.9,87.5,"m"],[37.2,86,"m"],[45.2,88.7,"k"],[60.6,87.5,"m"],[70.1,91.2,"r"],[77,87.2,"m"],[31.1,91.7,"m"],[38.8,94.5,"m"],[47.2,96.1,"m"],[54.8,94.7,"r"],
[62.7,94.7,"r"]];
var ctrlFunLinks = [[0,1,1],[0,2,1],[0,4,1],[0,7,1],[0,8,1],[0,9,1],[0,12,1],[0,14,1],[0,13,1],[0,3,1],[0,5,1],[0,10,1],[0,11,1],[1,2,1],[1,3,1],[1,4,1],[1,6,1],[1,22,1],[1,25,1],[1,10,1],
[2,4,1],[2,7,1],[2,10,1],[2,9,1],[3,4,1],[3,5,1],[3,6,1],[3,16,1],[3,17,1],[4,5,1],[4,12,1],[5,12,1],[5,15,1],[5,16,1],[5,34,1],[6,17,1],[6,25,1],[6,27,1],[6,28,1],[7,9,1],
[7,10,1],[7,20,1],[7,21,1],[8,9,1],[8,11,1],[8,14,1],[8,23,1],[8,24,1],[9,11,1],[9,21,1],[10,20,1],[10,22,1],[10,31,1],[11,18,1],[11,24,1],[12,13,1],[12,15,1],[13,14,1],[13,23,1],[13,30,1],
[15,29,1],[15,34,1],[16,17,1],[17,27,1],[18,21,1],[18,19,1],[19,21,1],[20,31,1],[22,25,1],[22,26,1],[25,28,1],[8,18,1],[7,19,1],[2,22,0],[1,9,0],[0,6,0],[3,12,0],[5,6,0],[0,23,0],[11,21,0],
[7,11,0],[10,26,0],[14,35,0],[8,35,0],[7,18,0],[2,20,0],[1,7,0],[4,6,0],[29,30,1],[12,29,1],[1,26,1],[2,32,0],[19,32,0],[20,32,1],[6,22,1],[26,33,1],[28,33,1],[14,23,0],[9,14,1],[0,15,0],
[2,3,0],
[42,43,1],[44,12,0],[36,37,0],[39,38,0],[40,41,1],[45,46,1],[47,17,0],[48,49,0],[50,51,0],[52,53,0],[56,14,0],[57,35,0],[54,55,0],[59,63,0],[60,25,0],[62,6,1],[63,75,1],[61,70,0],[66,69,1],[64,68,1],
[65,24,0],[71,76,0],[72,11,0],[67,81,0],[70,74,0],[74,82,0],[71,85,1],[84,102,1],[86,87,0],[80,89,1],[98,114,1],[91,92,0],[92,100,0],[83,100,1],[93,101,0],[99,115,1],[107,120,1],[108,121,0],[105,118,1],[111,112,0],
[113,125,0],[119,126,1],[117,122,0],[123,124,0],[109,110,0],[104,96,0],[95,103,0],[73,31,1],[79,19,0],[86,18,0],[78,18,0],[53,24,0],[58,27,0],[46,27,1],[41,16,0],[49,54,0],[55,61,0],[58,62,0],[69,81,0],[90,98,0],
[82,83,0],[87,104,0],[88,97,0],[94,102,0],[97,111,0],[106,114,0],[110,116,0],[103,109,0],[116,122,0],[112,125,0],[121,115,0],[120,126,0],[77,78,0],[76,84,0],[85,94,0],[68,71,0],[30,43,0],[37,34,0],[38,41,0],[39,44,0],
[29,53,1],[50,59,0],[28,62,1],[33,90,1],[31,80,1],[32,88,0],[22,60,0],[24,72,1],[18,86,0],[19,79,0],[20,105,1],[21,78,0],[16,47,1],[17,58,1],[25,66,0],[27,54,1],[35,65,0],[23,56,0],[11,77,1],[10,81,0],
[26,69,1]];

// ---------------------------------------------------------------
var width = 1325, height = 810;
var taxonFill = {h:"#2ebf5d", v:"#d872f2", e:"#e2661c", c:"#15a3f2", k:"#0d130d", s:"#ea4a6c", t:"#95d4c3", Y:"#fff27a",
  x:"#8d7d8d", l:"#ecc6dc", m:"#c063b5", g:"#3c7b1d", G:"#3ee856", y:"#d9b247", r:"#e00000", o:"#ff8c1a",
  b:"#1515f0", p:"#a567f2", w:"#d3d5cd", d:"#1f3d21", q:"#c8f4f2", n:"#c8f4b8", u:"#c8dff8"};

var colX = [0, 330, 660, 995], rowY = [55, 445], panelSize = 330;
var panels = [
  {nodes: smofBacNodes, links: smofBacLinks, col: 0, row: 0, pos: "#a3547e", neg: "#a6c4a6", posOp: 0.75, negOp: 0.7},
  {nodes: cofBacNodes,  links: cofBacLinks,  col: 1, row: 0, pos: "#33bd33", neg: "#ffb3b3", posOp: 0.8, negOp: 0.6},
  {nodes: ccfBacNodes,  links: ccfBacLinks,  col: 2, row: 0, pos: "#33bd33", neg: "#ffb3b3", posOp: 0.8, negOp: 0.6},
  {nodes: ctrlBacNodes, links: ctrlBacLinks, col: 3, row: 0, pos: "#35a27a", neg: "#f5b6c6", posOp: 0.75, negOp: 0.6},
  {nodes: smofFunNodes, links: smofFunLinks, col: 0, row: 1, pos: "#2fc02f", neg: "#ffbcbc", posOp: 0.8, negOp: 0.6},
  {nodes: cofFunNodes,  links: cofFunLinks,  col: 1, row: 1, pos: "#2fc02f", neg: "#ffbcbc", posOp: 0.8, negOp: 0.6},
  {nodes: ccfFunNodes,  links: ccfFunLinks,  col: 2, row: 1, pos: "#8fe08a", neg: "#ff6e6e", posOp: 0.75, negOp: 0.55},
  {nodes: ctrlFunNodes, links: ctrlFunLinks, col: 3, row: 1, pos: "#2fc02f", neg: "#ffbcbc", posOp: 0.8, negOp: 0.6}
];

var svg = d3.select("#chart").append("svg").attr("width", width).attr("height", height);
svg.append("rect").attr("width", width).attr("height", height).attr("fill", "#fff");

var x = d3.scaleLinear().domain([0, 100]).range([0, panelSize]);
var y = d3.scaleLinear().domain([0, 100]).range([0, panelSize]);
var rad = d3.scaleLinear().domain([0, 15]).range([0, 15]);

function arcPath(a, b) {
  var x1 = x(a[0]), y1 = y(a[1]), x2 = x(b[0]), y2 = y(b[1]);
  var dr = Math.hypot(x2 - x1, y2 - y1) * 1.15;
  return "M" + x1 + "," + y1 + "A" + dr + "," + dr + " 0 0,1 " + x2 + "," + y2;
}

panels.forEach(function(p) {
  var g = svg.append("g").attr("transform", "translate(" + colX[p.col] + "," + rowY[p.row] + ")");
  var links = p.links.filter(function(l) { return l[0] < p.nodes.length && l[1] < p.nodes.length && l[0] !== l[1]; });
  // faint edges below the stronger ones
  links.sort(function(a, b) { return (a[2] === 1 ? 1 : 0) - (b[2] === 1 ? 1 : 0); });
  g.append("g").attr("fill", "none").selectAll("path").data(links).join("path")
    .attr("d", function(l) { return arcPath(p.nodes[l[0]], p.nodes[l[1]]); })
    .attr("stroke", function(l) { return l[2] === 1 ? p.pos : p.neg; })
    .attr("stroke-opacity", function(l) { return l[2] === 1 ? p.posOp : p.negOp; })
    .attr("stroke-width", 1.2);

  var nodes = p.nodes.map(function(n) { return {x: n[0], y: n[1], c: n[2], w: n.length > 3 ? n[3] : 2.4}; });
  nodes.sort(function(a, b) { return a.w - b.w; });
  g.append("g").selectAll("circle").data(nodes).join("circle")
    .attr("cx", function(d) { return x(d.x); })
    .attr("cy", function(d) { return y(d.y); })
    .attr("r", function(d) { return rad(d.w); })
    .attr("fill", function(d) { return taxonFill[d.c]; })
    .attr("stroke", function(d) { return d3.color(taxonFill[d.c]).darker(0.5); })
    .attr("stroke-opacity", 0.6)
    .attr("stroke-width", function(d) { return d.w > 3 ? 1 : 0.6; });
});

// legends
function legend(items, colors, rows, startsX) {
  items.forEach(function(name, i) {
    var r = i < rows[0].n ? 0 : 1;
    var cx = startsX[i];
    svg.append("circle").attr("cx", cx).attr("cy", rows[r].cy).attr("r", 4.8).attr("fill", colors[i]);
    svg.append("text").attr("class", "leg").attr("x", cx + 9).attr("y", rows[r].cy + 5.2)
      .attr("font-size", rows[r].fs).text(name);
  });
}
legend(bacteriaPhyla, bacteriaColors,
  [{n: 7, cy: 12, fs: 15}, {n: 6, cy: 41, fs: 15}],
  [70, 222, 371, 514, 658, 769, 885, 73, 222, 381, 627, 855, 991]);
legend(fungiPhyla, fungiColors,
  [{n: 7, cy: 402, fs: 14.5}, {n: 8, cy: 433, fs: 14.5}],
  [69, 191, 336, 485, 637, 803, 947, 69, 179, 368, 513, 644, 796, 927, 1130]);

svg.append("text").attr("class", "leg").attr("x", 6).attr("y", 25).attr("font-size", 19).text("A");
svg.append("text").attr("class", "leg").attr("x", 6).attr("y", 415).attr("font-size", 19).text("B");

// stray marks present in the source figure
svg.append("rect").attr("x", 661).attr("y", 520).attr("width", 3.5).attr("height", 11).attr("fill", "#f07a2a");
svg.append("text").attr("x", 658).attr("y", 557).attr("font-size", 10).attr("font-family", "Liberation Sans, Arial, sans-serif").attr("fill", "#222").text("a");

// treatment labels
var labelX = [149, 483, 822, 1167];
svg.selectAll(".treat").data(treatments).join("text")
  .attr("class", "leg treat")
  .attr("x", function(d, i) { return labelX[i]; })
  .attr("y", 804)
  .attr("text-anchor", "middle")
  .attr("font-size", 22)
  .text(function(d) { return d; });
</script>
</body>
</html>
